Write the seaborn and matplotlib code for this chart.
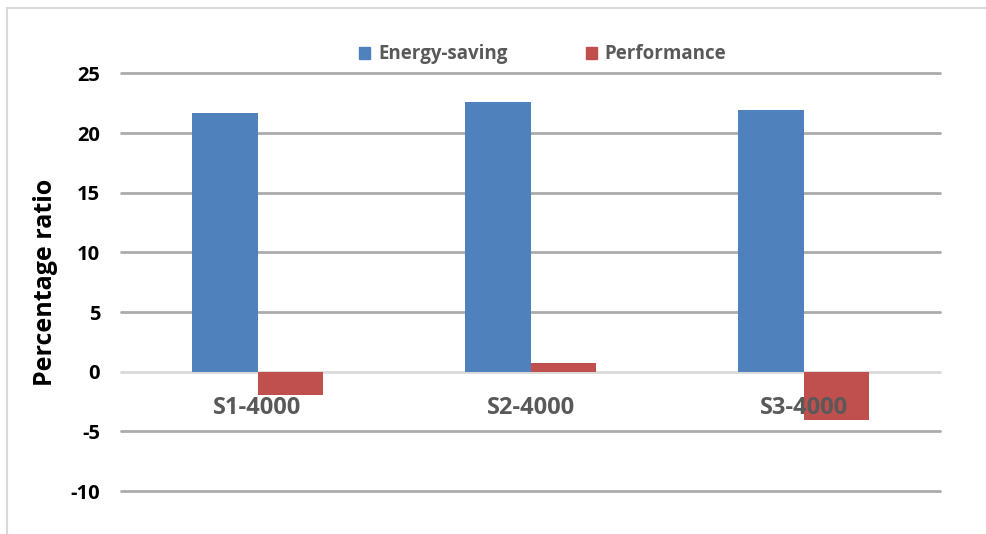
import pandas as pd
import seaborn as sns
import matplotlib.pyplot as plt
from matplotlib.lines import Line2D

# values
scenarios = ['S1-4000', 'S2-4000', 'S3-4000']
energy_saving = [21.7, 22.6, 21.9]
performance = [-1.95, 0.75, -4.05]
series_names = ['Energy-saving', 'Performance']
colors = ['#4F81BD', '#C0504D']
y_ticks = [-10, -5, 0, 5, 10, 15, 20, 25]

df = pd.DataFrame({
    'Scenario': scenarios * 2,
    'Series': [series_names[0]] * 3 + [series_names[1]] * 3,
    'Value': energy_saving + performance,
})

sns.set_theme(style='white')
plt.rcParams['font.family'] = ['Open Sans', 'DejaVu Sans']

fig = plt.figure(figsize=(9.87, 5.34), dpi=100)
ax = fig.add_axes([0.1226, 0.0805, 0.8298, 0.7819])

sns.barplot(data=df, x='Scenario', y='Value', hue='Series', palette=colors,
            width=0.48, saturation=1, ax=ax, legend=False, zorder=3,
            edgecolor='none', linewidth=0)

ax.set_ylim(-10, 25)
ax.set_xlim(-0.5, 2.5)
ax.set_yticks(y_ticks)
ax.set_yticklabels([str(t) for t in y_ticks], fontsize=14.5, fontweight='bold', color='black')
ax.tick_params(axis='y', length=0, pad=15)
ax.set_xticks([])
ax.set_xlabel('')
ax.set_ylabel('Percentage ratio', fontsize=18, fontweight='bold', color='black', labelpad=9)

for s in ax.spines.values():
    s.set_visible(False)

# horizontal grid lines, zero line lighter
for t in y_ticks:
    ax.axhline(t, color='#D9D9D9' if t == 0 else '#ABABAB', lw=2, zorder=1, clip_on=False)

# category labels sit just under the zero line
for i, name in enumerate(scenarios):
    ax.text(i, -3.0, name, ha='center', va='center', fontsize=17, fontweight='bold',
            color='#595959', zorder=5)

handles = [plt.Rectangle((0, 0), 1, 1, color=c) for c in colors]
fig.legend(handles, series_names, loc='center', bbox_to_anchor=(0.55, 0.898), ncol=2,
           frameon=False, handlelength=0.6, handleheight=0.6, handletextpad=0.4,
           columnspacing=4.2, prop={'size': 13.5, 'weight': 'bold'}, labelcolor='#595959')

# outer chart border (left and top visible)
fig.add_artist(Line2D([0.0071, 0.0071], [0, 0.985], color='#D9D9D9', lw=1.5))
fig.add_artist(Line2D([0.0071, 1.0], [0.985, 0.985], color='#D9D9D9', lw=1.5))

fig.savefig('out.png', dpi=100, facecolor='white')
